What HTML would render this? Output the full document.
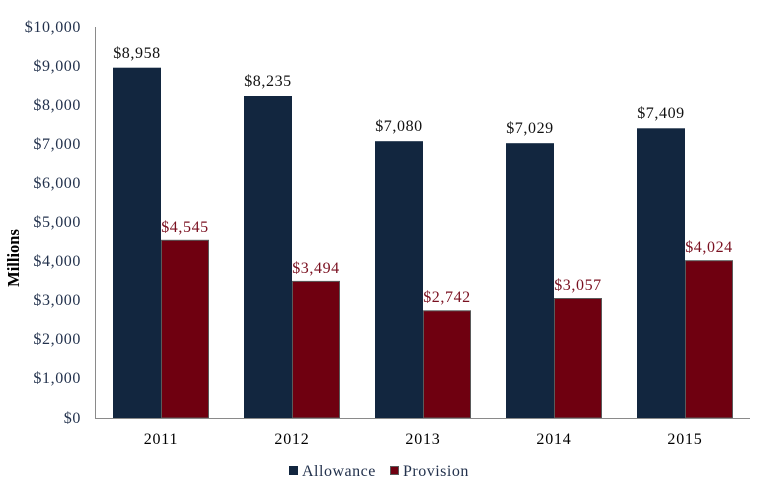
<!DOCTYPE html>
<html><head><meta charset="utf-8"><style>
html,body{margin:0;padding:0;background:#fff;}
svg{display:block;}
text{font-family:"Liberation Serif",serif;}
</style></head><body>
<svg width="765" height="491" viewBox="0 0 765 491" xmlns="http://www.w3.org/2000/svg">
<rect width="765" height="491" fill="#fff"/>
<!-- y tick labels -->
<g font-size="16" fill="#23324d" text-anchor="end" letter-spacing="0.6">
<text x="81" y="32">$10,000</text>
<text x="81" y="71">$9,000</text>
<text x="81" y="110">$8,000</text>
<text x="81" y="149">$7,000</text>
<text x="81" y="188">$6,000</text>
<text x="81" y="227">$5,000</text>
<text x="81" y="266">$4,000</text>
<text x="81" y="305">$3,000</text>
<text x="81" y="344">$2,000</text>
<text x="81" y="383">$1,000</text>
<text x="81" y="423">$0</text>
</g>
<text transform="translate(19,258) rotate(-90)" font-size="16.5" font-weight="bold" fill="#000" text-anchor="middle">Millions</text>
<!-- bars -->
<g fill="#12263f">
<rect x="113" y="67.7" width="48" height="350.3"/>
<rect x="244" y="96.0" width="48" height="322.0"/>
<rect x="375" y="141.2" width="48" height="276.8"/>
<rect x="506" y="143.2" width="48" height="274.8"/>
<rect x="637" y="128.3" width="48" height="289.7"/>
</g>
<g fill="#6f0010" stroke="#5a5a5a" stroke-width="1">
<rect x="161.5" y="240.3" width="47" height="177.7"/>
<rect x="292.5" y="281.4" width="47" height="136.6"/>
<rect x="423.5" y="310.8" width="47" height="107.2"/>
<rect x="554.5" y="298.5" width="47" height="119.5"/>
<rect x="685.5" y="260.7" width="47" height="157.3"/>
</g>
<!-- axes -->
<line x1="95.5" y1="27" x2="95.5" y2="418.5" stroke="#8a8a8a" stroke-width="1"/>
<line x1="95" y1="418.5" x2="750" y2="418.5" stroke="#8a8a8a" stroke-width="1"/>
<!-- value labels -->
<g font-size="16" fill="#111" text-anchor="middle" letter-spacing="0.6">
<text x="137" y="58">$8,958</text>
<text x="268" y="86">$8,235</text>
<text x="399" y="131">$7,080</text>
<text x="530" y="133">$7,029</text>
<text x="661" y="118">$7,409</text>
</g>
<g font-size="16" fill="#7a1020" text-anchor="middle" letter-spacing="0.6">
<text x="185" y="232">$4,545</text>
<text x="316" y="273">$3,494</text>
<text x="447" y="302">$2,742</text>
<text x="578" y="290">$3,057</text>
<text x="709" y="252">$4,024</text>
</g>
<!-- x labels -->
<g font-size="16" fill="#000" text-anchor="middle" letter-spacing="0.8">
<text x="161" y="444">2011</text>
<text x="292" y="444">2012</text>
<text x="423" y="444">2013</text>
<text x="554" y="444">2014</text>
<text x="685" y="444">2015</text>
</g>
<!-- legend -->
<rect x="289" y="466" width="9" height="9" fill="#12263f"/>
<text x="302" y="476" font-size="16" fill="#23324d" letter-spacing="0.5">Allowance</text>
<rect x="390.5" y="466.5" width="8" height="8" fill="#6f0010" stroke="#5a5a5a" stroke-width="1"/>
<text x="403" y="476" font-size="16" fill="#23324d" letter-spacing="0.5">Provision</text>
</svg>
</body></html>
